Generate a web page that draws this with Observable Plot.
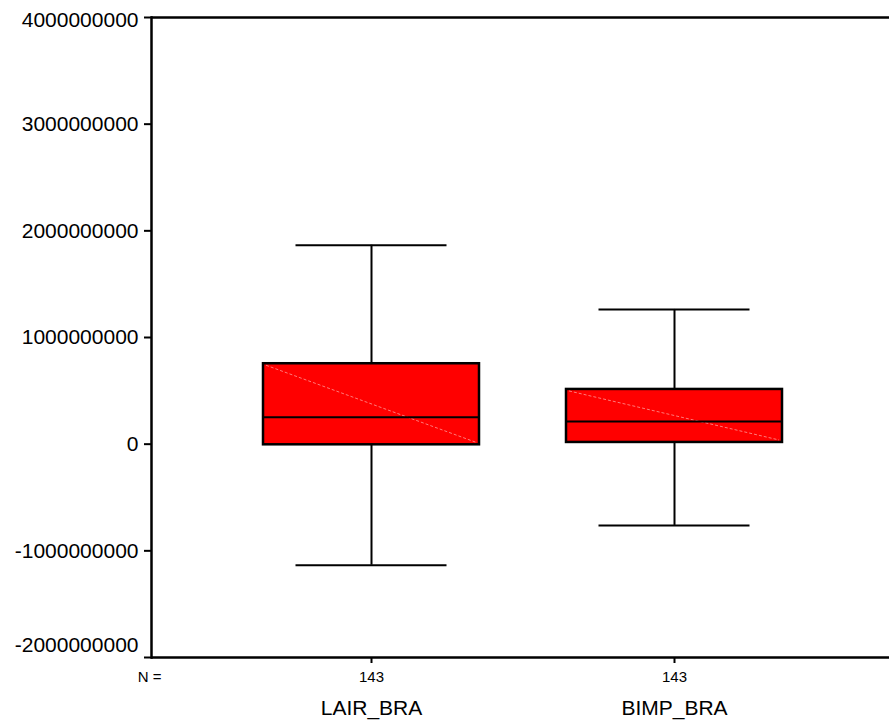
<!DOCTYPE html>
<html>
<head>
<meta charset="utf-8">
<script src="https://cdn.jsdelivr.net/npm/d3@7"></script>
<script src="https://cdn.jsdelivr.net/npm/@observablehq/plot@0.6"></script>
<style>
  html, body { margin: 0; padding: 0; background: #fff; }
  svg { display: block; }
</style>
</head>
<body>
<div id="chart"></div>
<script>
// ---- data ----
const categories = ["LAIR_BRA", "BIMP_BRA"];
const nValues    = [143, 143];
const whiskerLow  = [-1134000000, -762000000];
const q1Values    = [-6000000, 16000000];
const medianValues= [253000000, 213000000];
const q3Values    = [754000000, 513000000];
const whiskerHigh = [1866000000, 1263000000];
const yTicks = [-2000000000, -1000000000, 0, 1000000000, 2000000000, 3000000000, 4000000000];
const yDomain = [-2000000000, 4000000000];

const table = categories.map((c, i) => ({
  cat: c, n: nValues[i], lo: whiskerLow[i], q1: q1Values[i],
  med: medianValues[i], q3: q3Values[i], hi: whiskerHigh[i], base: yDomain[0]
}));

const font = "'Liberation Sans', Arial, Helvetica, sans-serif";
const fmt = d => String(d);   // plain hyphen-minus, no grouping

// diagonal artefact inside each box (top-left to bottom-right), drawn through the scales
function diagonals(index, scales) {
  const g = document.createElementNS("http://www.w3.org/2000/svg", "g");
  const x = scales.x, y = scales.y;
  const bw = x.bandwidth ? x.bandwidth() : 0;
  for (const d of table) {
    const l = document.createElementNS("http://www.w3.org/2000/svg", "line");
    l.setAttribute("x1", x(d.cat) + 3);
    l.setAttribute("y1", y(d.q3) + 2);
    l.setAttribute("x2", x(d.cat) + bw - 3);
    l.setAttribute("y2", y(d.q1) - 2);
    l.setAttribute("stroke", "#ff7a7a");
    l.setAttribute("stroke-width", "1");
    l.setAttribute("stroke-dasharray", "3,2");
    g.appendChild(l);
  }
  return g;
}

const chart = Plot.plot({
  width: 889,
  height: 724,
  marginLeft: 151,
  marginRight: 0,
  marginTop: 17,
  marginBottom: 67,
  style: { fontFamily: font, background: "#fff", color: "#000" },
  x: { type: "band", domain: categories, paddingInner: 0.286, paddingOuter: 0.357, align: 0.514 },
  y: { domain: yDomain },
  marks: [
    // whiskers
    Plot.ruleX(table, { x: "cat", y1: "lo", y2: "hi", stroke: "#000", strokeWidth: 2 }),
    Plot.tickY(table, { x: "cat", y: "hi", stroke: "#000", strokeWidth: 2, insetLeft: 32.5, insetRight: 32.5 }),
    Plot.tickY(table, { x: "cat", y: "lo", stroke: "#000", strokeWidth: 2, insetLeft: 32.5, insetRight: 32.5 }),
    // boxes
    Plot.barY(table, { x: "cat", y1: "q1", y2: "q3", fill: "#ff0000", stroke: "#000", strokeWidth: 2.5 }),
    diagonals,
    Plot.tickY(table, { x: "cat", y: "med", stroke: "#000", strokeWidth: 2 }),
    // frame lines
    Plot.ruleY([yDomain[0], yDomain[1]], { stroke: "#000", strokeWidth: 2.5 }),
    Plot.frame({ anchor: "left", stroke: "#000", strokeWidth: 2.5 }),
    // y axis ticks and labels
    Plot.axisY(yTicks, { tickSize: 7, stroke: "#000", strokeWidth: 2, tickFormat: () => "", label: null }),
    Plot.axisY([yTicks[6]], { tickSize: 0, tickPadding: 13, dy: 3, fontSize: 21, fill: "#000", tickFormat: fmt, label: null }),
    Plot.axisY(yTicks.slice(1, 6), { tickSize: 0, tickPadding: 13, fontSize: 21, fill: "#000", tickFormat: fmt, label: null }),
    Plot.axisY([yTicks[0]], { tickSize: 0, tickPadding: 13, dy: -12, fontSize: 21, fill: "#000", tickFormat: fmt, label: null }),
    // x axis ticks
    Plot.axisX(categories, { anchor: "bottom", tickSize: 6, stroke: "#000", strokeWidth: 2, tickFormat: () => "", label: null }),
    // N counts
    Plot.text(table, { x: "cat", y: "base", dy: 20, text: d => String(d.n), fontSize: 15, fill: "#000" }),
    Plot.text(["N ="], { frameAnchor: "bottom-left", textAnchor: "middle", lineAnchor: "middle", dx: -2, dy: 20, text: d => d, fontSize: 15, fill: "#000" }),
    // category labels
    Plot.text(table, { x: "cat", y: "base", dy: 51, text: "cat", fontSize: 21, fill: "#000" })
  ]
});

document.getElementById("chart").appendChild(chart);
</script>
</body>
</html>
